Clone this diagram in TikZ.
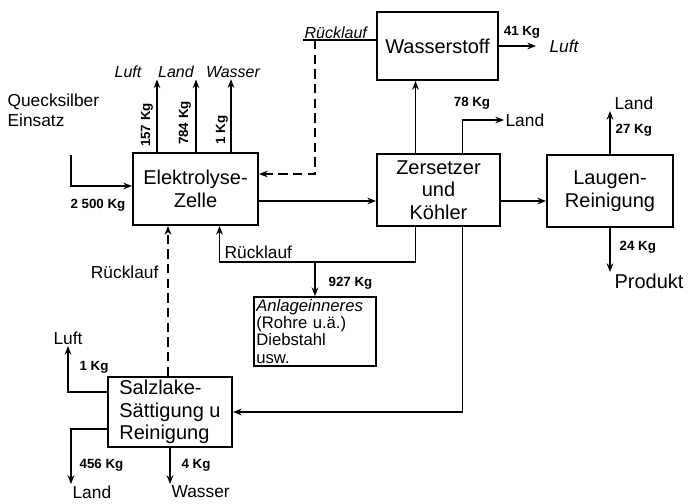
\documentclass[tikz,border=0pt]{standalone}
\usepackage{fontspec}
\setmainfont{Liberation Sans}
\usetikzlibrary{positioning,arrows.meta,calc}
\begin{document}
\begin{tikzpicture}[x=0.75pt, y=-0.75pt,
  blk/.style={rectangle, draw, line width=1.5pt, align=center, font=\fontsize{15}{17}\selectfont, inner sep=2pt},
  arrow/.style={-{Stealth[length=6.5pt, width=5pt]}, line width=1.4pt},
  flow/.style={line width=1.4pt},
  ret/.style={arrow, dash pattern=on 7pt off 4pt},
  sink/.style={font=\fontsize{13}{15}\selectfont, inner sep=1pt},
  mass/.style={font=\fontsize{10}{12}\selectfont\bfseries, inner sep=1pt},
]
\useasboundingbox (0,0) rectangle (699,503);

% === PROCESS BLOCKS ===
\node[blk, minimum width=93.75pt, minimum height=54pt] (elz) at (195.5,189) {Elektrolyse-\\Zelle};
\node[blk, minimum width=90.75pt, minimum height=51pt] (wst) at (437.5,46) {Wasserstoff};
\node[blk, minimum width=92.25pt, minimum height=54pt] (zer) at (438.5,190) {Zersetzer\\und\\Köhler};
\node[blk, minimum width=94.5pt, minimum height=54pt] (lau) at (610,191) {Laugen-\\Reinigung};
\node[blk, minimum width=93pt, minimum height=52.5pt, align=left] (sal) at (170,412) {Salzlake-\\Sättigung u\\Reinigung};
\node[blk, text width=88pt, align=left, inner sep=2pt, font=\fontsize{12.5}{12.8}\selectfont] (anl) at (315,331.5)
  {\textit{Anlageinneres}\\(Rohre u.ä.)\\Diebstahl\\usw.};

% === INPUT ===
\node[sink, anchor=north west, align=left] (hg) at (6,92) {Quecksilber\\Einsatz};
\coordinate (hgin) at (71,155);
\draw[arrow] (hgin) |- ($(elz.west)+(0,-3)$);
\node[mass, anchor=east] at (127,205) {2 500 Kg};

% === ELEKTROLYSE OUTLETS ===
\node[sink, font=\fontsize{12}{14}\selectfont\itshape] (luft1) at (128,72) {Luft};
\node[sink, font=\fontsize{12}{14}\selectfont\itshape] (land1) at (176,72) {Land};
\node[sink, font=\fontsize{12}{14}\selectfont\itshape] (wass1) at (233,72) {Wasser};
\draw[arrow] ($(elz.north west)+(25,0)$) coordinate (t1) -- (t1 |- luft1.south);
\draw[arrow] ($(elz.north west)+(64,0)$) coordinate (t2) -- (t2 |- land1.south);
\draw[arrow] ($(elz.north west)+(99,0)$) coordinate (t3) -- (t3 |- wass1.south);
\node[mass, rotate=90] at (147,125) {157 Kg};
\node[mass, rotate=90] at (185,123) {784 Kg};
\node[mass, rotate=90] at (222,130) {1 Kg};

% === WASSERSTOFF ===
\node[sink, anchor=south west, font=\fontsize{12}{14}\selectfont\itshape] (rk1) at (303,40) {Rücklauf};
\draw[flow] (rk1.south west) -- (rk1.south west -| wst.west);
\draw[ret] ($(rk1.south west)+(12,0)$) |- ($(elz.north east)+(0,22)$);
\draw[arrow] ($(zer.north)+(-23,0)$) coordinate (b) -- (b |- wst.south);
\node[sink, anchor=west, font=\fontsize{13}{15}\selectfont\itshape] (luft2) at (548,46) {Luft};
\draw[arrow] (wst.east) -- ($(luft2.west)+(-12,0)$);
\node[mass] at (522,32) {41 Kg};

% === ZERSETZER ===
\draw[arrow] ($(elz.east)+(0,12)$) coordinate (a) -- (a -| zer.west);
\node[sink, anchor=west] (land2) at (504,120) {Land};
\draw[arrow] ($(zer.north)+(24,0)$) |- (land2.west);
\node[mass] at (472,103) {78 Kg};
\draw[arrow] ($(zer.east)+(0,11)$) coordinate (c) -- (c -| lau.west);

\coordinate (split) at (315,262);
\draw[flow] ($(zer.south)+(-23,0)$) |- (split);
\draw[arrow] (split) -- (anl.north);
\draw[arrow] (split) -| ($(elz.south)+(24,0)$);
\node[sink, anchor=south west] (rk2) at (223,260) {Rücklauf};
\node[mass, anchor=west] at (327,283) {927 Kg};
\draw[arrow] ($(zer.south)+(24,0)$) |- (sal.east);

% === LAUGEN-REINIGUNG ===
\node[sink, anchor=south west] (land3) at (613,111) {Land};
\draw[arrow] (lau.north) -- (lau.north |- land3.south west);
\node[mass, anchor=west] at (614,130) {27 Kg};
\node[sink, anchor=north west, font=\fontsize{15}{17}\selectfont] (prod) at (613,272) {Produkt};
\draw[arrow] (lau.south) -- (lau.south |- prod.north west);
\node[mass, anchor=west] at (618,247) {24 Kg};

% === SALZLAKE ===
\draw[ret] ($(sal.north)+(-2,0)$) coordinate (e) -- (e |- elz.south);
\node[sink, anchor=east] (rk3) at (160,272) {Rücklauf};
\node[sink, anchor=south] (luft3) at (68,346) {Luft};
\draw[arrow] ($(sal.west)+(0,-20)$) -| (luft3.south);
\node[mass, anchor=west] at (78,367) {1 Kg};
\node[sink, anchor=north west] (land4) at (71,484) {Land};
\draw[arrow] ($(sal.west)+(0,17)$) -| (land4.north west);
\node[mass, anchor=west] at (78,465) {456 Kg};
\node[sink, anchor=north west] (wass2) at (170,484) {Wasser};
\draw[arrow] (sal.south) -- (wass2.north west);
\node[mass, anchor=west] at (180,465) {4 Kg};
\end{tikzpicture}
\end{document}
